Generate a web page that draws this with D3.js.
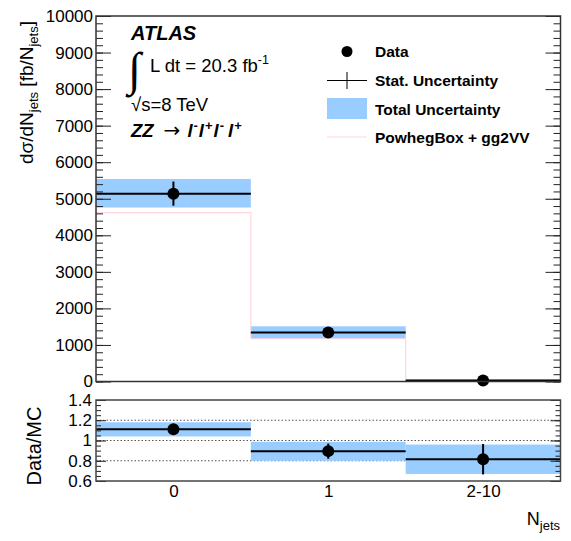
<!DOCTYPE html>
<html>
<head>
<meta charset="utf-8">
<script src="https://cdn.jsdelivr.net/npm/d3@7/dist/d3.min.js"></script>
<style>
  html, body { margin: 0; padding: 0; background: #fff; }
  svg { display: block; font-family: "Liberation Sans", Arial, Helvetica, sans-serif; }
</style>
</head>
<body>
<svg id="chart" width="571" height="541"></svg>
<script>
// Jet multiplicity bins
const categories = ["0", "1", "2-10"];

// Measured differential cross section [fb/N_jets]
const dataValues = [5140, 1340, 30];
const dataStat = [330, 100, 15];
const totalLow = [4760, 1170, 10];
const totalHigh = [5540, 1510, 50];

// PowhegBox + gg2VV prediction
const mcValues = [4620, 1170, 5];

// Data / MC ratio
const ratioValues = [1.11, 0.895, 0.815];
const ratioStat = [0.015, 0.075, 0.15];
const ratioLow = [1.04, 0.80, 0.67];
const ratioHigh = [1.18, 0.987, 0.96];

// Axis ticks
const mainMajorTicks = [0, 1000, 2000, 3000, 4000, 5000, 6000, 7000, 8000, 9000, 10000];
const ratioMajorTicks = [0.6, 0.8, 1.0, 1.2, 1.4];
const ratioGridLines = [0.8, 1.0, 1.2];

const bandColor = "#99ccff";
const mcColor = "#ffd6dc";

const svg = d3.select("#chart");

const left = 96, right = 560.5;
const mainTop = 16, mainBottom = 381.5;
const ratioTop = 400, ratioBottom = 481;

const x = d3.scaleLinear().domain([-0.5, categories.length - 0.5]).range([left, right]);
const y = d3.scaleLinear().domain([0, 10000]).range([mainBottom, mainTop]);
const yr = d3.scaleLinear().domain([0.6, 1.4]).range([ratioBottom, ratioTop]);

const idx = d3.range(categories.length);

// ---------- main panel ----------
const main = svg.append("g");

// total uncertainty bands
main.selectAll("rect.band").data(idx).join("rect")
  .attr("class", "band")
  .attr("x", i => x(i - 0.5)).attr("width", i => x(i + 0.5) - x(i - 0.5))
  .attr("y", i => y(totalHigh[i])).attr("height", i => y(totalLow[i]) - y(totalHigh[i]))
  .attr("fill", bandColor);

// MC step histogram
const mcLine = d3.line().curve(d3.curveStepAfter).x(d => x(d[0])).y(d => y(d[1]));
const mcPts = idx.map(i => [i - 0.5, mcValues[i]]);
mcPts.push([categories.length - 0.5, mcValues[mcValues.length - 1]]);
main.append("path").attr("d", mcLine(mcPts))
  .attr("fill", "none").attr("stroke", mcColor).attr("stroke-width", 1.2);

// horizontal bin-width bars
main.selectAll("line.hbar").data(idx).join("line")
  .attr("x1", i => x(i - 0.5)).attr("x2", i => x(i + 0.5))
  .attr("y1", i => y(dataValues[i])).attr("y2", i => y(dataValues[i]))
  .attr("stroke", "#000").attr("stroke-width", 2);
// statistical error bars
main.selectAll("line.vbar").data(idx).join("line")
  .attr("x1", i => x(i)).attr("x2", i => x(i))
  .attr("y1", i => y(dataValues[i] + dataStat[i])).attr("y2", i => y(dataValues[i] - dataStat[i]))
  .attr("stroke", "#000").attr("stroke-width", 2);
main.selectAll("circle.pt").data(idx).join("circle")
  .attr("cx", i => x(i)).attr("cy", i => y(dataValues[i])).attr("r", 6).attr("fill", "#000");

// axes with inward ticks
const minorMain = d3.range(0, 10001, 200);
main.append("g").attr("transform", `translate(${left},0)`)
  .call(d3.axisLeft(y).tickValues(minorMain).tickSizeInner(-7).tickSizeOuter(0).tickFormat(""))
  .call(g => g.select(".domain").remove());
main.append("g").attr("transform", `translate(${left},0)`)
  .call(d3.axisLeft(y).tickValues(mainMajorTicks).tickSizeInner(-15).tickSizeOuter(0).tickPadding(3).tickFormat(d3.format("d")))
  .call(g => g.select(".domain").remove())
  .call(g => g.selectAll("text").attr("font-size", 17).attr("fill", "#000"));
main.append("g").attr("transform", `translate(${right},0)`)
  .call(d3.axisRight(y).tickValues(minorMain).tickSizeInner(-7).tickSizeOuter(0).tickFormat(""))
  .call(g => g.select(".domain").remove());
main.append("g").attr("transform", `translate(${right},0)`)
  .call(d3.axisRight(y).tickValues(mainMajorTicks).tickSizeInner(-15).tickSizeOuter(0).tickFormat(""))
  .call(g => g.select(".domain").remove());
main.selectAll(".tick line").attr("stroke", "#222");

main.append("rect").attr("x", left).attr("y", mainTop)
  .attr("width", right - left).attr("height", mainBottom - mainTop)
  .attr("fill", "none").attr("stroke", "#333").attr("stroke-width", 1.5);

// y title
const yt = main.append("text")
  .attr("transform", "translate(33,21) rotate(-90)")
  .attr("text-anchor", "end").attr("font-size", 19).attr("fill", "#000");
yt.append("tspan").text("dσ/dN");
yt.append("tspan").attr("font-size", 13).attr("dy", 5).text("jets");
yt.append("tspan").attr("dy", -5).text(" [fb/N");
yt.append("tspan").attr("font-size", 13).attr("dy", 5).text("jets");
yt.append("tspan").attr("dy", -5).text("]");

// ATLAS label block
main.append("text").attr("x", 131).attr("y", 40)
  .attr("font-size", 20).attr("font-weight", "bold").attr("font-style", "italic").text("ATLAS");
main.append("text").attr("x", 128).attr("y", 85)
  .attr("font-family", "DejaVu Sans").attr("font-size", 47).attr("font-weight", "200").text("∫");
const lumi = main.append("text").attr("x", 150).attr("y", 72).attr("font-size", 18.5);
lumi.append("tspan").text("L dt = 20.3 fb");
lumi.append("tspan").attr("font-size", 12.5).attr("dy", -8).text("-1");
main.append("text").attr("x", 131).attr("y", 111).attr("font-size", 18.5).text("√s=8 TeV");
const proc = main.append("text").attr("x", 131).attr("y", 137).attr("font-size", 18.5);
proc.append("tspan").attr("font-weight", "bold").attr("font-style", "italic").text("ZZ");
proc.append("tspan").attr("dx", 10).attr("font-family", "DejaVu Sans").attr("font-size", 20).text("→");
const leptons = [["l", "-"], ["l", "+"], ["l", "-"], ["l", "+"]];
leptons.forEach(([l, s], k) => {
  proc.append("tspan").attr("font-weight", "bold").attr("font-style", "italic")
    .attr("dx", k === 0 ? 7 : (k === 3 ? 4 : 1)).attr("dy", k === 0 ? 0 : 7).text(l);
  proc.append("tspan").attr("font-weight", "bold").attr("font-size", 13).attr("dx", 1).attr("dy", -7).text(s);
});

// legend
const lg = main.append("g").attr("font-size", 15.5).attr("font-weight", "bold");
const lx0 = 327, lx1 = 367, tx = 375;
lg.append("circle").attr("cx", 347).attr("cy", 51.5).attr("r", 5.5).attr("fill", "#000");
lg.append("text").attr("x", tx).attr("y", 57).text("Data");
lg.append("line").attr("x1", lx0).attr("x2", lx1).attr("y1", 80.5).attr("y2", 80.5).attr("stroke", "#000").attr("stroke-width", 1);
lg.append("line").attr("x1", 347).attr("x2", 347).attr("y1", 72).attr("y2", 89).attr("stroke", "#000").attr("stroke-width", 1);
lg.append("text").attr("x", tx).attr("y", 86).text("Stat. Uncertainty");
lg.append("rect").attr("x", lx0).attr("y", 98).attr("width", lx1 - lx0).attr("height", 21).attr("fill", bandColor);
lg.append("text").attr("x", tx).attr("y", 114.5).text("Total Uncertainty");
lg.append("line").attr("x1", lx0).attr("x2", lx1).attr("y1", 137).attr("y2", 137).attr("stroke", mcColor).attr("stroke-width", 1.2);
lg.append("text").attr("x", tx).attr("y", 142.5).text("PowhegBox + gg2VV");

// ---------- ratio panel ----------
const rp = svg.append("g");

rp.selectAll("line.grid").data(ratioGridLines).join("line")
  .attr("x1", left).attr("x2", right).attr("y1", d => yr(d)).attr("y2", d => yr(d))
  .attr("stroke", "#555").attr("stroke-width", 1).attr("stroke-dasharray", "1.5,2");

rp.selectAll("rect.band").data(idx).join("rect")
  .attr("x", i => x(i - 0.5)).attr("width", i => x(i + 0.5) - x(i - 0.5))
  .attr("y", i => yr(ratioHigh[i])).attr("height", i => yr(ratioLow[i]) - yr(ratioHigh[i]))
  .attr("fill", bandColor);

rp.selectAll("line.hbar").data(idx).join("line")
  .attr("x1", i => x(i - 0.5)).attr("x2", i => x(i + 0.5))
  .attr("y1", i => yr(ratioValues[i])).attr("y2", i => yr(ratioValues[i]))
  .attr("stroke", "#000").attr("stroke-width", 2);
rp.selectAll("line.vbar").data(idx).join("line")
  .attr("x1", i => x(i)).attr("x2", i => x(i))
  .attr("y1", i => yr(ratioValues[i] + ratioStat[i])).attr("y2", i => yr(ratioValues[i] - ratioStat[i]))
  .attr("stroke", "#000").attr("stroke-width", 2);
rp.selectAll("circle.pt").data(idx).join("circle")
  .attr("cx", i => x(i)).attr("cy", i => yr(ratioValues[i])).attr("r", 6).attr("fill", "#000");

const minorRatio = d3.range(0.6, 1.4001, 0.05);
rp.append("g").attr("transform", `translate(${left},0)`)
  .call(d3.axisLeft(yr).tickValues(minorRatio).tickSizeInner(-5).tickSizeOuter(0).tickFormat(""))
  .call(g => g.select(".domain").remove());
rp.append("g").attr("transform", `translate(${left},0)`)
  .call(d3.axisLeft(yr).tickValues(ratioMajorTicks).tickSizeInner(-10).tickSizeOuter(0).tickPadding(4)
    .tickFormat(d => d3.format("~g")(d)))
  .call(g => g.select(".domain").remove())
  .call(g => g.selectAll("text").attr("font-size", 17).attr("fill", "#000"));
rp.append("g").attr("transform", `translate(${right},0)`)
  .call(d3.axisRight(yr).tickValues(minorRatio).tickSizeInner(-5).tickSizeOuter(0).tickFormat(""))
  .call(g => g.select(".domain").remove());
rp.append("g").attr("transform", `translate(${right},0)`)
  .call(d3.axisRight(yr).tickValues(ratioMajorTicks).tickSizeInner(-10).tickSizeOuter(0).tickFormat(""))
  .call(g => g.select(".domain").remove());
rp.selectAll(".tick line").attr("stroke", "#222");

rp.append("rect").attr("x", left).attr("y", ratioTop)
  .attr("width", right - left).attr("height", ratioBottom - ratioTop)
  .attr("fill", "none").attr("stroke", "#444").attr("stroke-width", 1.5);

// category labels
rp.append("g").attr("transform", `translate(0,${ratioBottom})`)
  .call(d3.axisBottom(x).tickValues(idx).tickSize(0).tickPadding(0).tickFormat(i => categories[i]))
  .call(g => g.select(".domain").remove())
  .call(g => g.selectAll("text").attr("font-size", 17).attr("fill", "#000").attr("dy", null).attr("y", 16));

rp.append("text")
  .attr("transform", "translate(41,446) rotate(-90)")
  .attr("text-anchor", "middle").attr("font-size", 20).text("Data/MC");

const xt = rp.append("text").attr("x", 560).attr("y", 525).attr("text-anchor", "end").attr("font-size", 18);
xt.append("tspan").text("N");
xt.append("tspan").attr("font-size", 13).attr("dy", 5).text("jets");
</script>
</body>
</html>
